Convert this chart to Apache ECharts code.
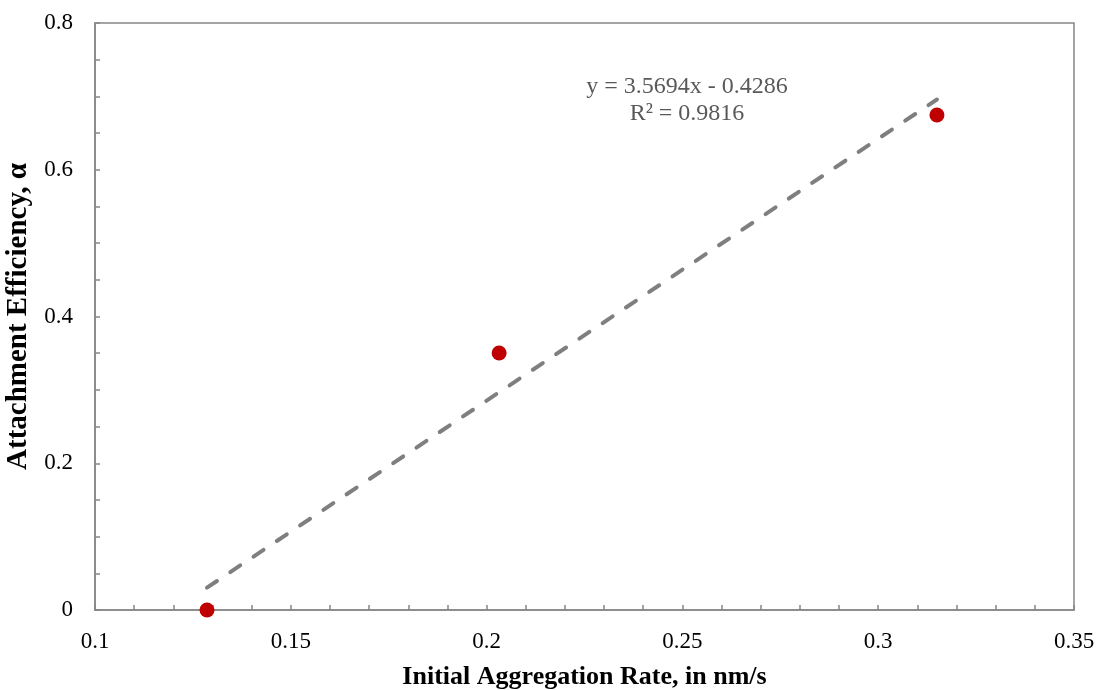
<!DOCTYPE html>
<html>
<head>
<meta charset="utf-8">
<script src="https://cdn.jsdelivr.net/npm/echarts@6/dist/echarts.min.js"></script>
<style>
  html, body { margin: 0; padding: 0; background: #fff; }
  #chart { width: 1098px; height: 690px; }
</style>
</head>
<body>
<div id="chart"></div>
<script>
// measured points
const rateX = [0.1286, 0.2032, 0.315];
const alphaY = [0.0, 0.3503, 0.6746];

// linear trendline as reported in the figure
const slope = 3.5694;
const intercept = -0.4286;
const r2 = 0.9816;

const xTicks = { min: 0.1, max: 0.35, interval: 0.05 };
const yTicks = { min: 0, max: 0.8, interval: 0.2 };

const points = rateX.map((x, i) => [x, alphaY[i]]);
const xFirst = Math.min(...rateX);
const xLast = Math.max(...rateX);
const trend = [xFirst, xLast].map(x => [x, slope * x + intercept]);

const font = 'Liberation Serif, Times New Roman, serif';
const axisGray = '#868686';

const chart = echarts.init(document.getElementById('chart'));
chart.setOption({
  animation: false,
  backgroundColor: '#fff',
  grid: {
    left: 95, top: 23, right: 24, bottom: 80,
    outerBoundsMode: 'none',
    show: true, borderColor: axisGray, borderWidth: 1.5
  },
  xAxis: {
    type: 'value',
    min: xTicks.min, max: xTicks.max, interval: xTicks.interval,
    name: 'Initial Aggregation Rate, in nm/s',
    nameLocation: 'middle', nameGap: 54,
    nameTextStyle: { fontFamily: font, fontSize: 26, fontWeight: 'bold', color: '#000' },
    axisLine: { lineStyle: { color: axisGray, width: 1.5 } },
    axisTick: { inside: true, length: 5, lineStyle: { color: axisGray, width: 1.5 } },
    minorTick: { show: true, splitNumber: 5, length: 5, lineStyle: { color: axisGray, width: 1.5 } },
    splitLine: { show: false },
    axisLabel: { fontFamily: font, fontSize: 23, color: '#000', margin: 20 }
  },
  yAxis: {
    type: 'value',
    min: yTicks.min, max: yTicks.max, interval: yTicks.interval,
    name: 'Attachment Efficiency, α',
    nameLocation: 'middle', nameGap: 55, nameRotate: 90,
    nameTextStyle: { fontFamily: font, fontSize: 29, fontWeight: 'bold', color: '#000' },
    axisLine: { show: true, lineStyle: { color: axisGray, width: 1.5 } },
    axisTick: { show: true, inside: true, length: 5, lineStyle: { color: axisGray, width: 1.5 } },
    minorTick: { show: true, splitNumber: 4, length: 5, lineStyle: { color: axisGray, width: 1.5 } },
    splitLine: { show: false },
    axisLabel: { fontFamily: font, fontSize: 23, color: '#000', margin: 22 }
  },
  graphic: [
    {
      type: 'text', x: 687, y: 87,
      style: { text: 'y = 3.5694x - 0.4286', font: '24px ' + font, fill: '#595959', align: 'center', verticalAlign: 'middle' }
    },
    {
      type: 'text', x: 687, y: 114,
      style: { text: 'R² = ' + r2, font: '24px ' + font, fill: '#595959', align: 'center', verticalAlign: 'middle' }
    }
  ],
  series: [
    {
      type: 'line',
      data: trend,
      symbol: 'none',
      lineStyle: { color: '#7f7f7f', width: 4, type: [12, 16], cap: 'round' },
      z: 2
    },
    {
      type: 'scatter',
      data: points,
      symbol: 'circle',
      symbolSize: 15,
      itemStyle: { color: '#C00000', opacity: 1 },
      z: 3
    }
  ]
});
</script>
</body>
</html>
